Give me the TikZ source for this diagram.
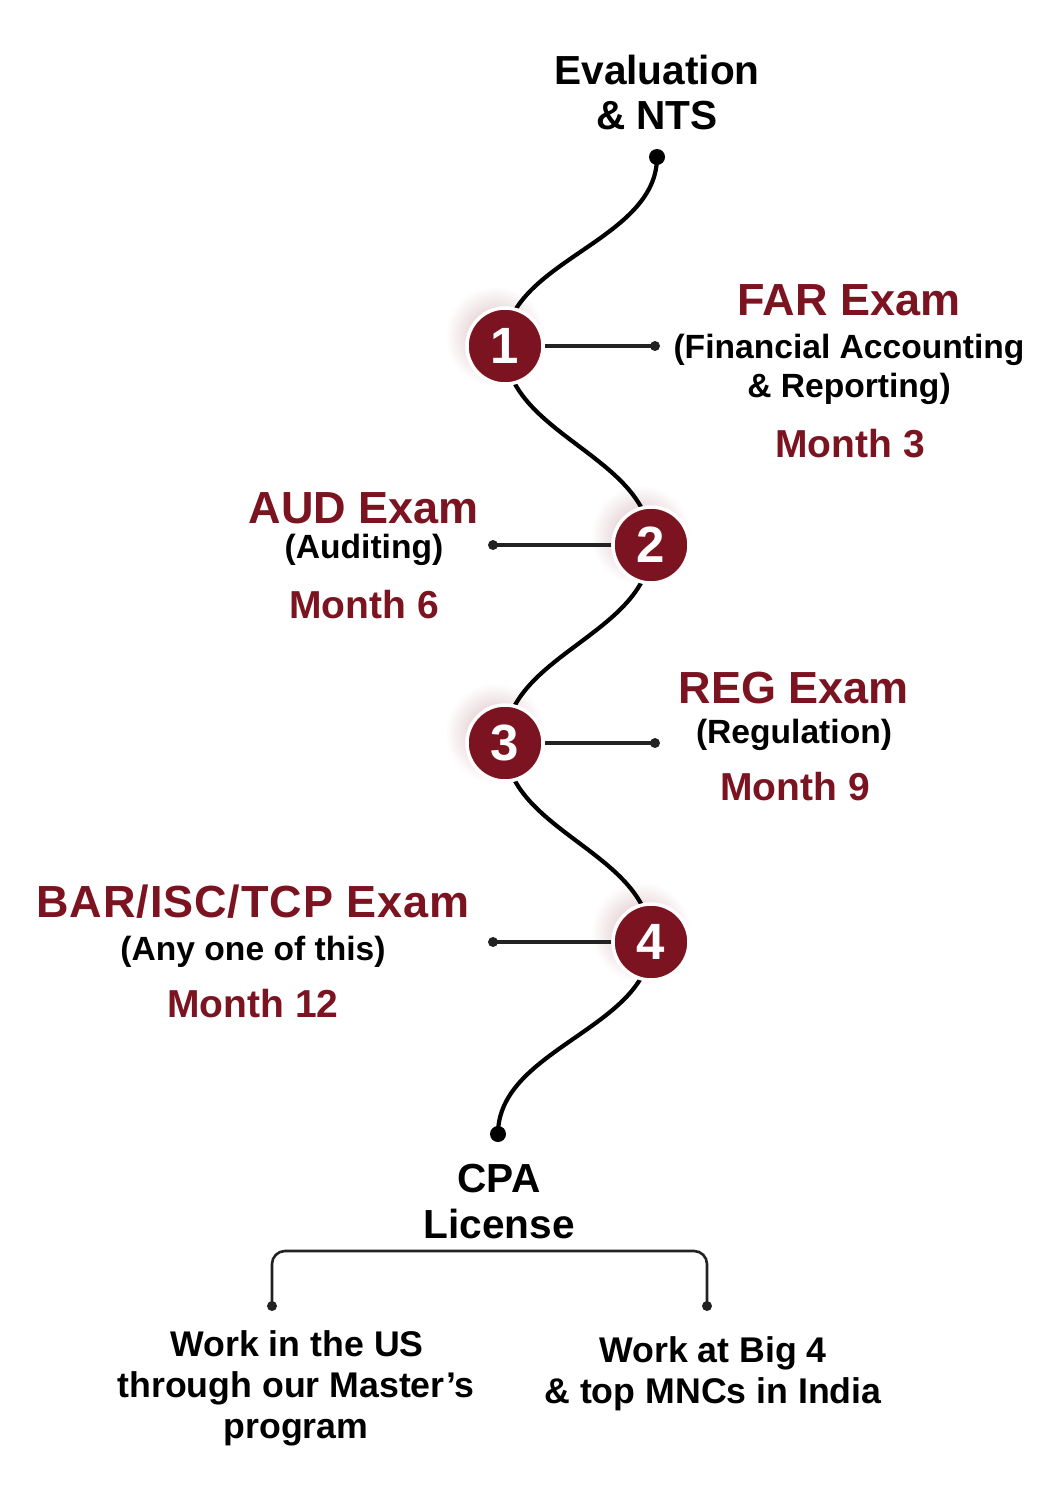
\documentclass[tikz,border=0pt]{standalone}
\usepackage{fontspec}
\setmainfont{Liberation Sans}
\definecolor{maroon}{HTML}{7B1420}
\definecolor{linegray}{HTML}{222222}
\begin{document}
\begin{tikzpicture}[x=1pt,y=-1pt,
  wave/.style={line width=4.2pt, black},
  conn/.style={line width=3.2pt, linegray},
  bracket/.style={line width=2.6pt, linegray, rounded corners=13pt},
  stepnum/.style={circle, fill=maroon, draw=white, line width=3.5pt, minimum size=76pt, inner sep=0pt, text=white, font=\fontsize{51}{51}\selectfont\bfseries},
  examtitle/.style={anchor=base, text=maroon, inner sep=0pt, font=\fontsize{45}{48}\selectfont\bfseries},
  subtext/.style={anchor=base, text=black, inner sep=0pt, font=\fontsize{33.6}{38}\selectfont\bfseries},
  monthtext/.style={anchor=base, text=maroon, inner sep=0pt, font=\fontsize{39}{42}\selectfont\bfseries},
  bigtext/.style={anchor=base, text=black, inner sep=0pt, font=\fontsize{40.6}{44}\selectfont\bfseries},
  outtext/.style={anchor=base, text=black, inner sep=0pt, font=\fontsize{35.7}{40}\selectfont\bfseries},
]
\useasboundingbox (0,0) rectangle (1061,1500);
\fill[white] (0,0) rectangle (1061,1500);

% key points
\coordinate (start) at (657,157);
\coordinate (c1) at (505,346);
\coordinate (c2) at (651,545);
\coordinate (c3) at (505,743);
\coordinate (c4) at (651,942);
\coordinate (finish) at (498,1134);

% glows
\foreach \c in {c1,c2,c3,c4}{
  \shade[inner color=maroon!32, outer color=white] ([shift={(-10,-10)}]\c) circle[radius=50pt];
}

% wave
\draw[wave] (start) .. controls (657,242) and (505,261) .. (c1)
  .. controls (505,435) and (651,456) .. (c2)
  .. controls (651,634) and (505,654) .. (c3)
  .. controls (505,832) and (651,852) .. (c4)
  .. controls (651,1028) and (498,1048) .. (finish);
\fill (start) circle[radius=8pt];
\fill (finish) circle[radius=8pt];

% connector dots
\coordinate (d1) at (655,346);
\coordinate (d2) at (493,545);
\coordinate (d3) at (655,743);
\coordinate (d4) at (493,942);

% circles
\node[stepnum] (n1) at (c1) {1};
\node[stepnum] (n2) at (c2) {2};
\node[stepnum] (n3) at (c3) {3};
\node[stepnum] (n4) at (c4) {4};

\draw[conn] (n1.east) -- (d1);
\draw[conn] (n2.west) -- (d2);
\draw[conn] (n3.east) -- (d3);
\draw[conn] (n4.west) -- (d4);
\foreach \d in {d1,d2,d3,d4}{\fill[linegray] (\d) circle[radius=5pt];}

% top text
\node[bigtext] (eval1) at (657,84) {Evaluation};
\node[bigtext] (eval2) at (657,129) {\& NTS};

% FAR
\node[examtitle] (far) at (849,315) {FAR Exam};
\node[subtext] (fars1) at (849,358) {(Financial Accounting};
\node[subtext] (fars2) at (849,397) {\& Reporting)};
\node[monthtext] (farm) at (850,457) {Month 3};

% AUD
\node[examtitle] (aud) at (364,523) {AUD Exam};
\node[subtext] (auds) at (364,558) {(Auditing)};
\node[monthtext] (audm) at (364,618) {Month 6};

% REG
\node[examtitle] (reg) at (794,703) {REG Exam};
\node[subtext] (regs) at (794,743) {(Regulation)};
\node[monthtext] (regm) at (795,800) {Month 9};

% BAR
\node[examtitle] (bar) at (253,917) {\addfontfeature{LetterSpace=2}BAR/ISC/TCP Exam};
\node[subtext] (bars) at (253,960) {(Any one of this)};
\node[monthtext] (barm) at (253,1017) {Month 12};

% CPA license
\node[bigtext] (cpa) at (499,1192) {CPA};
\node[bigtext] (lic) at (499,1238) {License};

% bracket
\coordinate (bl) at (272,1306);
\coordinate (br) at (707,1306);
\coordinate (jl) at (272,1251);
\coordinate (jr) at (707,1251);
\draw[bracket] (bl) -- (jl) -- (jr) -- (br);
\fill[linegray] (bl) circle[radius=5pt];
\fill[linegray] (br) circle[radius=5pt];

% outcomes
\node[outtext] (us1) at (297,1356) {Work in the US};
\node[outtext] (us2) at (296,1397) {through our Master’s};
\node[outtext] (us3) at (296,1438) {program};
\node[outtext] (in1) at (713,1362) {Work at Big 4};
\node[outtext] (in2) at (713,1403) {\& top MNCs in India};
\end{tikzpicture}
\end{document}
